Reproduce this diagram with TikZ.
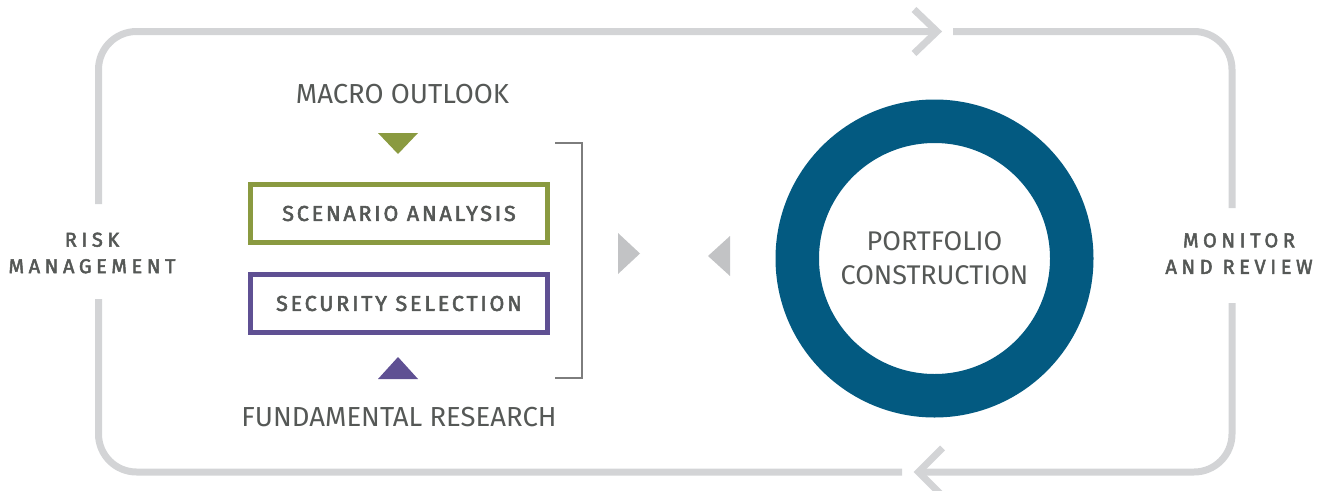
\documentclass[tikz,border=0pt]{standalone}
\usepackage{fontspec}
\setmainfont{Fira Sans}
\newfontfamily\sidefont[LetterSpace=23,FakeBold=2.5]{Fira Sans}
\newfontfamily\boxfont[LetterSpace=13,FakeBold=2.5]{Fira Sans}
\usetikzlibrary{positioning,calc}
\usepackage{xcolor}
\definecolor{loopgray}{HTML}{D3D4D6}
\definecolor{textgray}{HTML}{555856}
\definecolor{macrogreen}{HTML}{8A9A40}
\definecolor{researchpurple}{HTML}{5F5093}
\definecolor{bracketgray}{HTML}{7D7D7D}
\definecolor{flowgray}{HTML}{C2C3C5}
\definecolor{ringblue}{HTML}{035A81}

\begin{document}
\begin{tikzpicture}[x=1pt,y=-1pt,
    label/.style={text=textgray,inner sep=0pt,font=\fontsize{27.5}{34}\selectfont},
    sidelabel/.style={text=textgray,inner sep=0pt,align=center,font=\sidefont\fontsize{20}{26.5}\selectfont},
    stagebox/.style={draw=#1,line width=5pt,minimum width=297pt,minimum height=58pt,inner sep=0pt,
        text=textgray,font=\boxfont\fontsize{21.5}{26}\selectfont},
    loopline/.style={draw=loopgray,line width=7pt,rounded corners=38pt},
    chevron/.style={draw=loopgray,line width=7pt,line join=miter}]
\useasboundingbox (0,0) rectangle (1325,490);

% outer review loop
\coordinate (lefttop) at (98.5,204);
\coordinate (leftbot) at (98.5,299);
\coordinate (righttop) at (1232,208);
\coordinate (rightbot) at (1232,303);
\coordinate (toptip) at (937,31.5);
\coordinate (topresume) at (953,31.5);
\coordinate (bottip) at (918.5,472);
\coordinate (botresume) at (902,472);
\draw[loopline] (lefttop) |- (toptip);
\draw[loopline] (topresume) -| (righttop);
\draw[loopline] (rightbot) |- (bottip);
\draw[loopline] (botresume) -| (leftbot);
\draw[chevron] ($(toptip)+(-23,-22)$) -- (toptip) -- ($(toptip)+(-23,22)$);
\draw[chevron] ($(bottip)+(24,-24)$) -- (bottip) -- ($(bottip)+(24,24)$);

\node[sidelabel] (risk) at (92,253) {RISK\\MANAGEMENT};
\node[sidelabel] (monitor) at (1239,253.5) {MONITOR\\AND REVIEW};

% inputs
\node[label,anchor=base] (macro) at (402.5,103.3) {MACRO OUTLOOK};
\node[stagebox=macrogreen] (scenario) at (399,213.5) {SCENARIO ANALYSIS};
\node[stagebox=researchpurple] (security) at (399,303.5) {SECURITY SELECTION};
\node[label,anchor=base] (fundamental) at (399,426) {FUNDAMENTAL RESEARCH};
\fill[macrogreen] (378,133) -- (418,133) -- (398,154) -- cycle;
\fill[researchpurple] (378,379) -- (418,379) -- (398,357) -- cycle;
\draw[bracketgray,line width=1.5pt] (555,143) -| (582,378) -- (555,378);

\fill[flowgray] (618,233) -- (640,253.5) -- (618,274) -- cycle;
\fill[flowgray] (730,236) -- (708,256) -- (730,276) -- cycle;

\node[circle,draw=ringblue,line width=43.5pt,minimum size=274.5pt,align=center,
    text=textgray,font=\fontsize{27}{34}\selectfont] (portfolio) at (934.5,258.5) {PORTFOLIO\\CONSTRUCTION};
\end{tikzpicture}
\end{document}
